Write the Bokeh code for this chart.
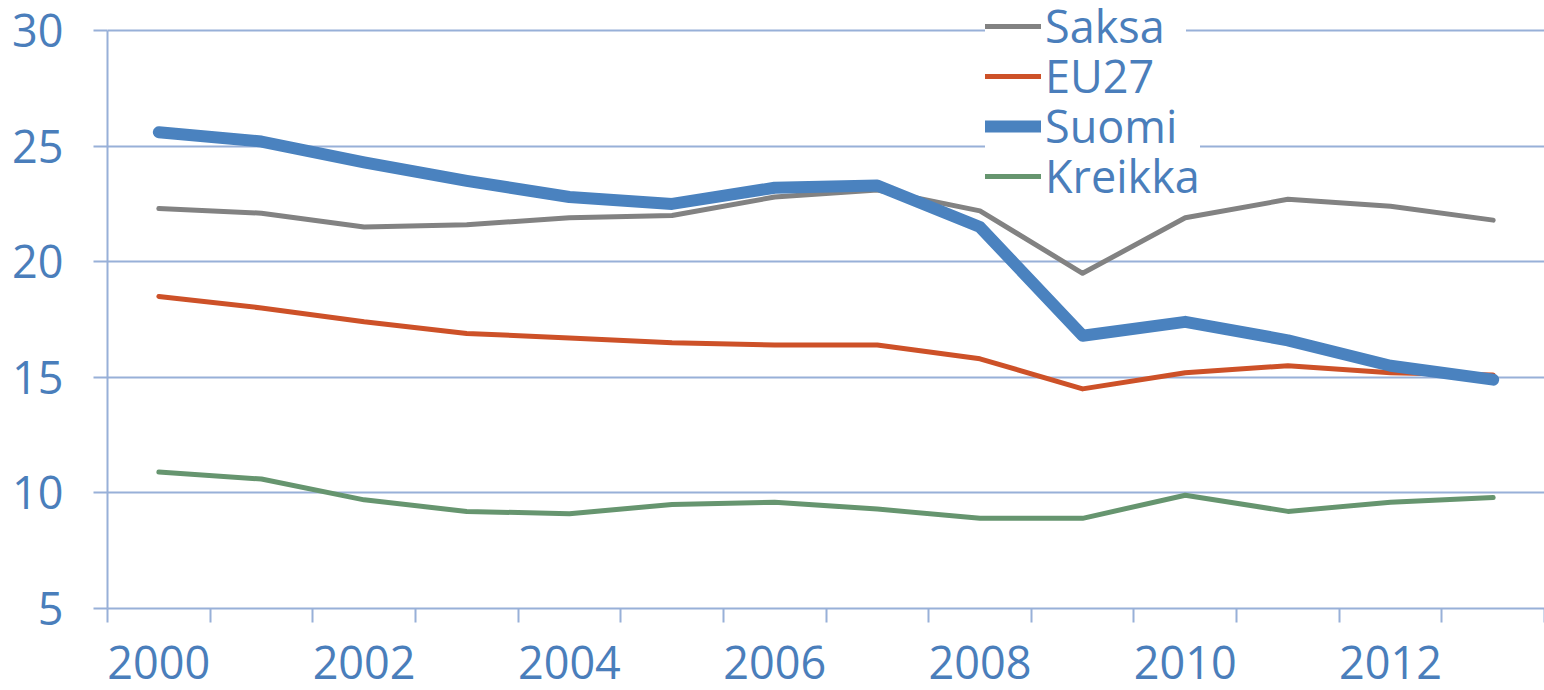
from bokeh.plotting import figure
from bokeh.models import Range1d, FixedTicker, Legend, LegendItem
from bokeh.embed import file_html
from bokeh.resources import INLINE

years = [2000, 2001, 2002, 2003, 2004, 2005, 2006, 2007, 2008, 2009, 2010, 2011, 2012, 2013]
saksa = [22.3, 22.1, 21.5, 21.6, 21.9, 22.0, 22.8, 23.1, 22.2, 19.5, 21.9, 22.7, 22.4, 21.8]
eu27 = [18.5, 18.0, 17.4, 16.9, 16.7, 16.5, 16.4, 16.4, 15.8, 14.5, 15.2, 15.5, 15.2, 15.1]
suomi = [25.6, 25.2, 24.3, 23.5, 22.8, 22.5, 23.2, 23.3, 21.5, 16.8, 17.4, 16.6, 15.5, 14.9]
kreikka = [10.9, 10.6, 9.7, 9.2, 9.1, 9.5, 9.6, 9.3, 8.9, 8.9, 9.9, 9.2, 9.6, 9.8]
y_ticks = [5, 10, 15, 20, 25, 30]
x_label_years = [2000, 2002, 2004, 2006, 2008, 2010, 2012]

TEXT = "#4A7EBB"
GRID = "#98B0D8"
FONT = "Open Sans"
FS = "45px"

# frame reaches the top of the canvas so the legend above the 30-line is not clipped;
# 30 px of headroom above the top tick at 23.12 px per unit
p = figure(width=1544, height=690, output_backend="svg", toolbar_location=None,
           x_range=Range1d(years[0] - 0.5, years[-1] + 0.5), y_range=Range1d(5, 31.3),
           min_border_left=107, min_border_right=0, min_border_top=0, min_border_bottom=82)
p.outline_line_color = None
p.background_fill_color = "white"
p.xgrid.grid_line_color = None
p.ygrid.grid_line_color = GRID
p.ygrid.grid_line_width = 2
p.ygrid.ticker = FixedTicker(ticks=y_ticks)

p.yaxis.ticker = FixedTicker(ticks=y_ticks)
p.yaxis.bounds = (y_ticks[0], y_ticks[-1])
p.yaxis.major_tick_out = 14
p.yaxis.major_tick_in = 0
p.yaxis.minor_tick_line_color = None
p.yaxis.major_tick_line_color = GRID
p.yaxis.major_tick_line_width = 2
p.yaxis.axis_line_color = GRID
p.yaxis.axis_line_width = 2
p.yaxis.major_label_standoff = 30
p.yaxis.major_label_text_font = FONT
p.yaxis.major_label_text_font_size = FS
p.yaxis.major_label_text_color = TEXT

p.xaxis.ticker = FixedTicker(ticks=x_label_years, minor_ticks=[y - 0.5 for y in years] + [years[-1] + 0.5])
p.xaxis.major_tick_out = 0
p.xaxis.major_tick_in = 0
p.xaxis.minor_tick_out = 14
p.xaxis.minor_tick_in = 0
p.xaxis.minor_tick_line_color = GRID
p.xaxis.minor_tick_line_width = 2
p.xaxis.axis_line_color = GRID
p.xaxis.axis_line_width = 2
p.xaxis.major_label_standoff = 23
p.xaxis.major_label_text_font = FONT
p.xaxis.major_label_text_font_size = FS
p.xaxis.major_label_text_color = TEXT

series = [
    ("Saksa", saksa, "#828282", 5),
    ("EU27", eu27, "#CD5128", 5),
    ("Suomi", suomi, "#4A82BF", 12),
    ("Kreikka", kreikka, "#66956F", 5),
]
renderers = {}
draw_order = ["Kreikka", "EU27", "Saksa", "Suomi"]
spec = {s[0]: s for s in series}
for name in draw_order:
    _, vals, col, w = spec[name]
    renderers[name] = p.line(years, vals, line_color=col, line_width=w,
                             line_cap="round", line_join="round")

# one single-row legend per series, stacked so rows sit 50px apart
for i, s in enumerate(reversed(series)):
    lg = Legend(items=[LegendItem(label=s[0], renderers=[renderers[s[0]]])],
                location=(878, 402 + 50 * i), glyph_width=56, glyph_height=20,
                label_standoff=4, padding=10, spacing=0, margin=0, label_width=141,
                label_text_font=FONT, label_text_font_size=FS, label_text_color=TEXT,
                border_line_color=None, background_fill_color="white",
                background_fill_alpha=1.0)
    p.add_layout(lg, "center")

open("out.html", "w").write(file_html(p, INLINE))
